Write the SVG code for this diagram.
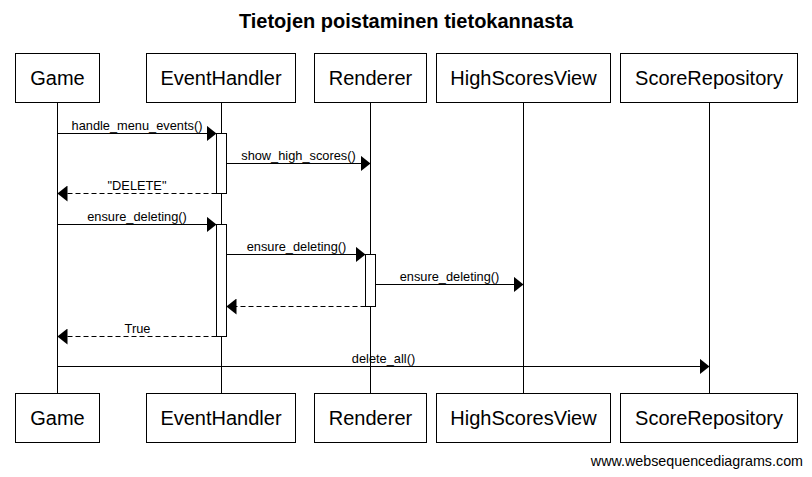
<svg xmlns="http://www.w3.org/2000/svg" width="812" height="477" viewBox="0 0 812 477">
<style>
.box{fill:#fff;stroke:#000;stroke-width:1}
.act{fill:#fff;stroke:#000;stroke-width:1}
.life{stroke:#000;stroke-width:1}
.msg{stroke:#000;stroke-width:1;fill:none}
.ret{stroke:#000;stroke-width:1;fill:none;stroke-dasharray:5,3}
.pl{font-family:"Liberation Sans",Arial,sans-serif;font-size:20px;text-anchor:middle;fill:#000}
.ml{font-family:"Liberation Sans",Arial,sans-serif;font-size:12.8px;text-anchor:middle;fill:#000}
.title{font-family:"Liberation Sans",Arial,sans-serif;font-size:20px;font-weight:bold;text-anchor:middle;fill:#000}
.foot{font-family:"Liberation Sans",Arial,sans-serif;font-size:14.3px;text-anchor:end;fill:#000}
</style>
<defs>
<marker id="ah" markerUnits="userSpaceOnUse" markerWidth="10" markerHeight="16" refX="10" refY="8" orient="auto" viewBox="0 0 10 16">
<path d="M0,0 L10,8 L0,16 z" fill="#000"/>
</marker>
</defs>
<rect width="812" height="477" fill="#fff"/>
<text class="title" x="406" y="28">Tietojen poistaminen tietokannasta</text>

<g id="lifelines">
<line class="life" x1="57.5" y1="102.5" x2="57.5" y2="393.5"/>
<line class="life" x1="221.5" y1="102.5" x2="221.5" y2="393.5"/>
<line class="life" x1="370.5" y1="102.5" x2="370.5" y2="393.5"/>
<line class="life" x1="523.5" y1="102.5" x2="523.5" y2="393.5"/>
<line class="life" x1="709.5" y1="102.5" x2="709.5" y2="393.5"/>
</g>

<g id="Game">
<rect class="box" x="15.5" y="53.5" width="84" height="49"/>
<text class="pl" x="57.5" y="85">Game</text>
<rect class="box" x="15.5" y="393.5" width="84" height="49"/>
<text class="pl" x="57.5" y="425">Game</text>
</g>
<g id="EventHandler">
<rect class="box" x="146.5" y="53.5" width="149" height="49"/>
<text class="pl" x="221" y="85">EventHandler</text>
<rect class="box" x="146.5" y="393.5" width="149" height="49"/>
<text class="pl" x="221" y="425">EventHandler</text>
</g>
<g id="Renderer">
<rect class="box" x="314.5" y="53.5" width="112" height="49"/>
<text class="pl" x="370.5" y="85">Renderer</text>
<rect class="box" x="314.5" y="393.5" width="112" height="49"/>
<text class="pl" x="370.5" y="425">Renderer</text>
</g>
<g id="HighScoresView">
<rect class="box" x="436.5" y="53.5" width="174" height="49"/>
<text class="pl" x="523.5" y="85">HighScoresView</text>
<rect class="box" x="436.5" y="393.5" width="174" height="49"/>
<text class="pl" x="523.5" y="425">HighScoresView</text>
</g>
<g id="ScoreRepository">
<rect class="box" x="620.5" y="53.5" width="177" height="49"/>
<text class="pl" x="709" y="85">ScoreRepository</text>
<rect class="box" x="620.5" y="393.5" width="177" height="49"/>
<text class="pl" x="709" y="425">ScoreRepository</text>
</g>

<g id="activations">
<rect class="act" x="216.5" y="133.5" width="10" height="60"/>
<rect class="act" x="216.5" y="224.5" width="10" height="112"/>
<rect class="act" x="365.5" y="254.5" width="10" height="52"/>
</g>

<g id="connectors">
<line class="msg" x1="57.5" y1="133.5" x2="216.5" y2="133.5" marker-end="url(#ah)"/>
<text class="ml" x="137" y="129.5">handle_menu_events()</text>
<line class="msg" x1="226.5" y1="163.5" x2="370.5" y2="163.5" marker-end="url(#ah)"/>
<text class="ml" x="298.5" y="159.5">show_high_scores()</text>
<line class="ret" x1="216.5" y1="193.5" x2="57.5" y2="193.5" marker-end="url(#ah)"/>
<text class="ml" x="137" y="189.5">"DELETE"</text>
<line class="msg" x1="57.5" y1="224.5" x2="216.5" y2="224.5" marker-end="url(#ah)"/>
<text class="ml" x="137" y="220.5">ensure_deleting()</text>
<line class="msg" x1="226.5" y1="254.5" x2="365.5" y2="254.5" marker-end="url(#ah)"/>
<text class="ml" x="296.5" y="250.5">ensure_deleting()</text>
<line class="msg" x1="375.5" y1="284.5" x2="523.5" y2="284.5" marker-end="url(#ah)"/>
<text class="ml" x="449.5" y="280.5">ensure_deleting()</text>
<line class="ret" x1="365.5" y1="306.5" x2="226.5" y2="306.5" marker-end="url(#ah)"/>
<line class="ret" x1="216.5" y1="336.5" x2="57.5" y2="336.5" marker-end="url(#ah)"/>
<text class="ml" x="137.5" y="332.5">True</text>
<line class="msg" x1="57.5" y1="366.5" x2="709.5" y2="366.5" marker-end="url(#ah)"/>
<text class="ml" x="383.5" y="362.5">delete_all()</text>
</g>

<text class="foot" x="803" y="466">www.websequencediagrams.com</text>
</svg>
